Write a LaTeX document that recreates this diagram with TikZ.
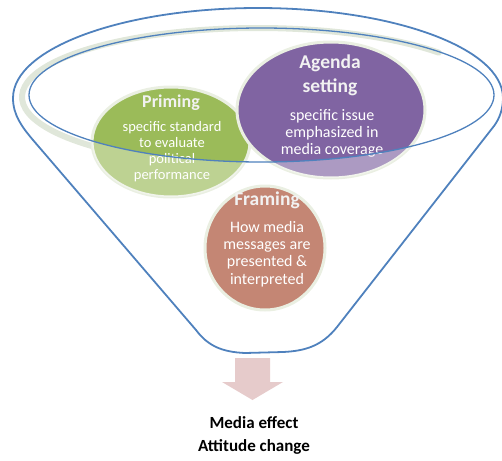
\documentclass[tikz,border=0pt]{standalone}
\usepackage{fontspec}
\setmainfont{Carlito}
\usetikzlibrary{shapes.geometric}
\definecolor{funnelblue}{RGB}{79,129,189}
\definecolor{bandgray}{RGB}{224,231,218}
\definecolor{glow}{RGB}{234,239,226}
\definecolor{primgreen}{RGB}{155,187,89}
\definecolor{agpurple}{RGB}{128,100,162}
\definecolor{framebrown}{RGB}{196,134,116}
\definecolor{arrowpink}{RGB}{230,203,203}
\definecolor{titlewhite}{RGB}{242,242,242}
\begin{document}
\begin{tikzpicture}[x=1pt,y=-1pt,
  bubble/.style={ellipse, draw=glow, line width=3pt, inner sep=0pt},
  titletext/.style={text=titlewhite, align=center, inner sep=0pt},
  bodytext/.style={text=white, align=center, inner sep=0pt},
  rim/.style={draw=funnelblue, line width=1.8pt, line join=round},
  fade/.style={white, opacity=0.35, even odd rule},
  result/.style={text=black, font=\bfseries\fontsize{17}{20}\selectfont, inner sep=0pt}
]
\useasboundingbox (0,0) rectangle (502,460);
% shadow band of the rim (left and top only)
\draw[bandgray, line width=6pt, line cap=round] (258,97) ++(-40:236 and 69)
  arc[start angle=-40, end angle=-232, x radius=236, y radius=69];
% funnel outline
\draw[rim] (503,98) arc[start angle=0, end angle=-180, x radius=245, y radius=90]
  .. controls (13,115) and (22,127) .. (33,140) -- (196,330)
  .. controls (208,346) and (222,352) .. (245,353) -- (283,352)
  .. controls (305,351) and (322,346) .. (337,327) -- (494,126)
  .. controls (500,118) and (503,108) .. (503,98);
% bubbles
\node[bubble, fill=primgreen, minimum width=158pt, minimum height=110pt] (priming) at (171,142) {};
\node[bubble, fill=framebrown, minimum width=120pt, minimum height=124pt] (framing) at (265,248) {};
\node[bubble, fill=agpurple, minimum width=188pt, minimum height=136pt] (agenda) at (331,110) {};
% faded lower parts (in front of the rim)
\begin{scope}
\clip (171,142) ellipse [x radius=79, y radius=55];
\fill[fade] (0,0) rectangle (502,460) (261.5,95) ellipse [x radius=232.5, y radius=67];
\end{scope}
\begin{scope}
\clip (331,110) ellipse [x radius=94, y radius=68];
\fill[fade] (0,0) rectangle (502,460) (261.5,95) ellipse [x radius=232.5, y radius=67];
\end{scope}
% texts
\node[titletext, font=\bfseries\fontsize{18}{22}\selectfont] (primtitle) at (171,103) {Priming};
\node[bodytext, font=\fontsize{14.5}{16}\selectfont] (primbody) at (172,152) {specific standard\\to evaluate\\political\\performance};
\node[titletext, font=\bfseries\fontsize{19.5}{24}\selectfont] (agtitle) at (330,75) {Agenda\\setting};
\node[bodytext, font=\fontsize{16}{17}\selectfont] (agbody) at (332,133) {specific issue\\emphasized in\\media coverage};
\node[titletext, font=\bfseries\fontsize{19.5}{22}\selectfont] (frtitle) at (267,200) {Framing};
\node[bodytext, font=\fontsize{16}{17.3}\selectfont] (frbody) at (267,254) {How media\\messages are\\presented \&\\interpreted};
% inner rim line (front edge)
\draw[funnelblue, line width=1.3pt] (261.5,95) ellipse [x radius=232.5, y radius=67];
% arrow
\fill[arrowpink] (235,358) -- (270,358) -- (270,382) -- (283,382) -- (252.5,400) -- (222,382) -- (235,382) -- cycle;
% result
\node[result] (effect) at (254,423) {Media effect};
\node[result] (change) at (254,447) {Attitude change};
\end{tikzpicture}
\end{document}
